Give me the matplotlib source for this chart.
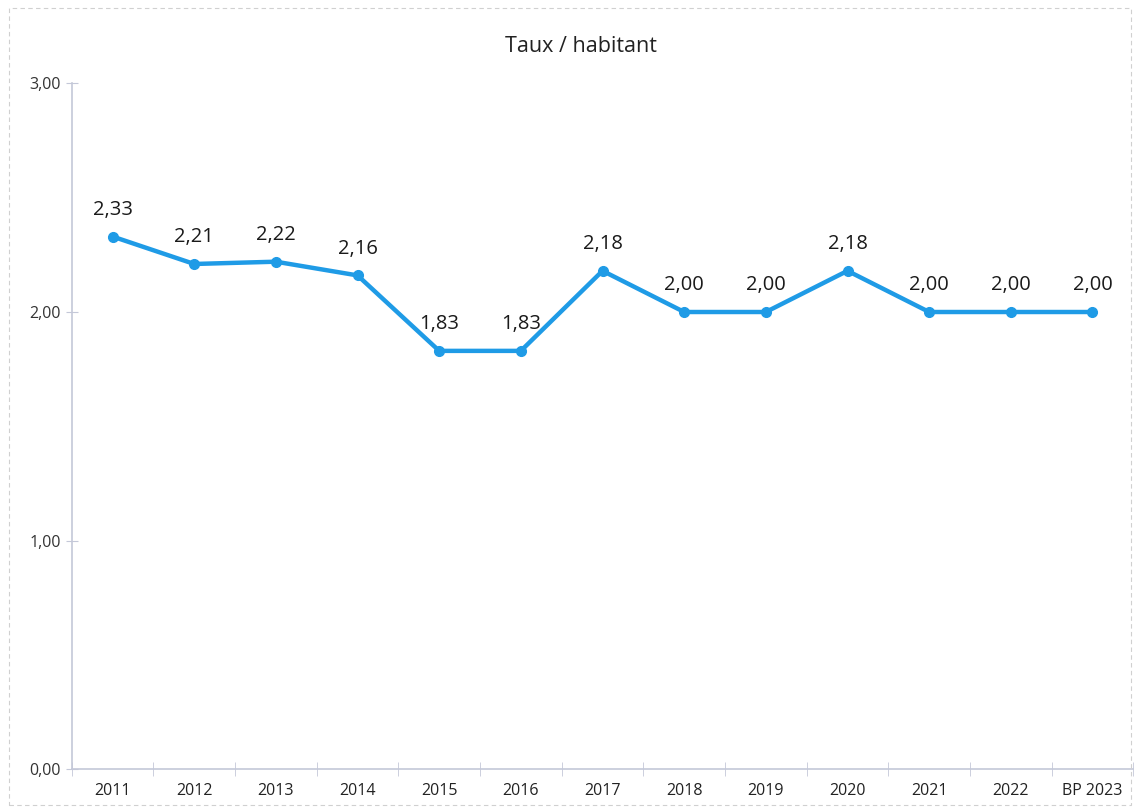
import matplotlib.pyplot as plt
from matplotlib.patches import Rectangle

# data
annees = ["2011", "2012", "2013", "2014", "2015", "2016", "2017",
          "2018", "2019", "2020", "2021", "2022", "BP 2023"]
taux = [2.33, 2.21, 2.22, 2.16, 1.83, 1.83, 2.18,
        2.00, 2.00, 2.18, 2.00, 2.00, 2.00]

plt.rcParams['font.family'] = ['Open Sans', 'DejaVu Sans']

fig = plt.figure(figsize=(11.39, 8.09), dpi=100)
ax = fig.add_axes([0.063, 0.049, 0.932, 0.848])

x = range(len(annees))
ax.plot(x, taux, color='#1f9be6', lw=3.2, marker='o', ms=7, zorder=3)

# value labels above each point
for i, v in enumerate(taux):
    ax.annotate(f"{v:.2f}".replace('.', ','), (i, v), xytext=(0, 12),
                textcoords='offset points', ha='center', va='bottom',
                fontsize=14.5, color='#1a1a1a')

ax.set_xlim(-0.5, len(annees) - 0.5)
ax.set_ylim(0, 3)
ax.set_yticks([0, 1, 2, 3])
ax.set_yticklabels(["0,00", "1,00", "2,00", "3,00"], fontsize=11.5, color='#333333')

ax.set_xticks(list(x))
ax.set_xticklabels(annees, fontsize=11.5, color='#222222')
ax.tick_params(axis='x', length=0, pad=10)
ax.set_xticks([i + 0.5 for i in range(-1, len(annees))], minor=True)
ax.tick_params(axis='x', which='minor', length=10, direction='inout', color='#c4c8d8')
ax.tick_params(axis='y', length=8, direction='inout', color='#c4c8d8', pad=4)

for s in ['top', 'right']:
    ax.spines[s].set_visible(False)
for s in ['left', 'bottom']:
    ax.spines[s].set_color('#c4c8d8')
    ax.spines[s].set_linewidth(1.2)

fig.text(0.51, 0.943, "Taux / habitant", ha='center', va='center',
         fontsize=15.5, color='#222222')

# faint dashed frame from the original document
fig.patches.append(Rectangle((0.008, 0.005), 0.985, 0.985, transform=fig.transFigure,
                             fill=False, ls=(0, (4, 3)), lw=0.8, ec='#d0d0d0'))

fig.savefig("out.png", dpi=100)
